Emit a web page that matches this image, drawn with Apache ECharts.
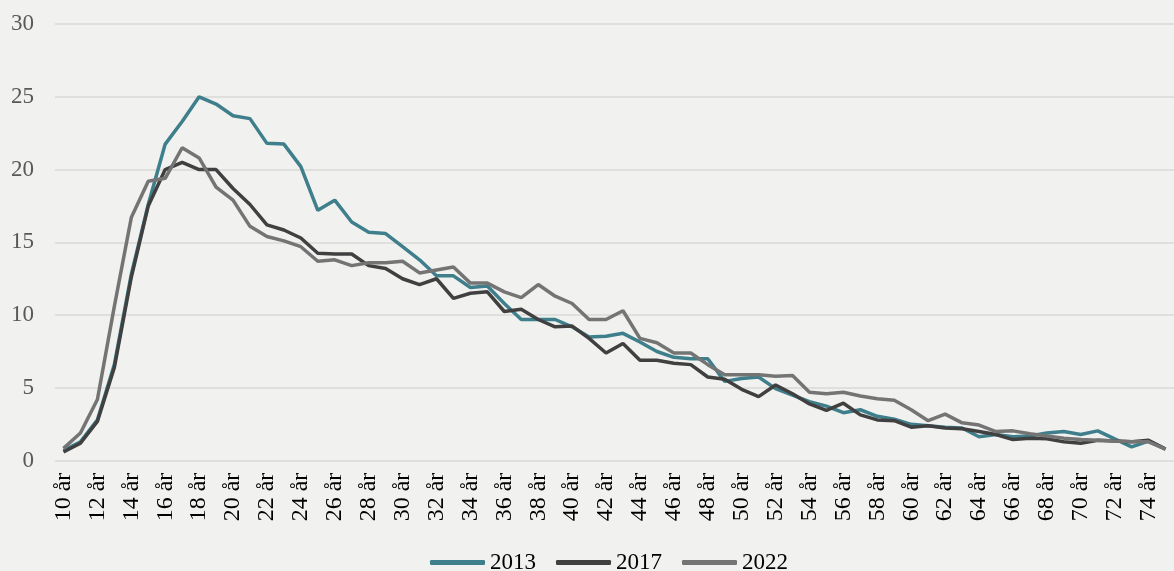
<!DOCTYPE html>
<html>
<head>
<meta charset="utf-8">
<script src="https://cdn.jsdelivr.net/npm/echarts@6/dist/echarts.min.js"></script>
<style>
html,body{margin:0;padding:0;background:#f1f1f0;}
#chart{width:1174px;height:571px;}
</style>
</head>
<body>
<div id="chart"></div>
<script>
const ages = [];
for (let a = 10; a <= 75; a++) ages.push(a + ' år');

const seriesNames = ['2013', '2017', '2022'];

const v2013 = [0.7, 1.3, 2.8, 6.6, 12.8, 17.6, 21.75, 23.3, 25.0, 24.5,
  23.7, 23.5, 21.8, 21.75, 20.2, 17.2, 17.9, 16.4, 15.7, 15.6,
  14.7, 13.8, 12.7, 12.7, 11.9, 12.0, 10.8, 9.7, 9.7, 9.7,
  9.2, 8.5, 8.55, 8.75, 8.15, 7.5, 7.1, 7.0, 7.0, 5.45,
  5.65, 5.75, 4.95, 4.5, 4.05, 3.75, 3.3, 3.5, 3.05, 2.85,
  2.5, 2.4, 2.3, 2.25, 1.65, 1.8, 1.65, 1.7, 1.9, 2.0,
  1.8, 2.05, 1.5, 0.95, 1.35, 0.8];

const v2017 = [0.6, 1.2, 2.7, 6.4, 12.6, 17.5, 20.0, 20.5, 20.0, 20.0,
  18.7, 17.6, 16.2, 15.85, 15.3, 14.25, 14.2, 14.2, 13.4, 13.2,
  12.5, 12.1, 12.5, 11.15, 11.5, 11.6, 10.25, 10.4, 9.7, 9.2,
  9.25, 8.4, 7.4, 8.05, 6.9, 6.9, 6.7, 6.6, 5.75, 5.6,
  4.9, 4.4, 5.2, 4.6, 3.9, 3.45, 3.95, 3.15, 2.8, 2.75,
  2.3, 2.4, 2.25, 2.2, 2.0, 1.8, 1.45, 1.55, 1.5, 1.3,
  1.2, 1.4, 1.35, 1.3, 1.4, 0.8];

const v2022 = [0.85, 1.9, 4.2, 10.6, 16.7, 19.2, 19.4, 21.5, 20.8, 18.8,
  17.9, 16.1, 15.4, 15.1, 14.7, 13.7, 13.8, 13.4, 13.6, 13.6,
  13.7, 12.9, 13.1, 13.3, 12.2, 12.2, 11.6, 11.2, 12.1, 11.3,
  10.8, 9.7, 9.7, 10.3, 8.4, 8.1, 7.4, 7.4, 6.6, 5.9,
  5.9, 5.9, 5.8, 5.85, 4.7, 4.6, 4.7, 4.45, 4.25, 4.15,
  3.5, 2.75, 3.2, 2.6, 2.45, 2.0, 2.05, 1.85, 1.7, 1.55,
  1.45, 1.4, 1.35, 1.3, 1.3, 0.8];

const yTicks = [0, 5, 10, 15, 20, 25, 30];
const colors = ['#3e7f8b', '#404040', '#747474'];

const chart = echarts.init(document.getElementById('chart'), null, {renderer: 'canvas'});
const font = '"Liberation Serif", "Times New Roman", serif';
chart.setOption({
  backgroundColor: '#f1f1f0',
  animation: false,
  grid: {left: 55, right: -11, top: 24, bottom: 110.3, containLabel: false},
  legend: {
    data: seriesNames,
    left: 425, top: 546,
    itemWidth: 55, itemHeight: 5, itemGap: 20,
    icon: 'roundRect',
    textStyle: {fontFamily: font, fontSize: 23, color: '#000'}
  },
  xAxis: {
    type: 'category', data: ages, boundaryGap: true,
    axisLine: {show: false}, axisTick: {show: false},
    axisLabel: {interval: 1, rotate: 90, margin: 12, fontFamily: font, fontSize: 24, color: '#000'}
  },
  yAxis: {
    type: 'value', min: yTicks[0], max: yTicks[yTicks.length - 1], interval: 5,
    axisLine: {show: false}, axisTick: {show: false},
    axisLabel: {margin: 21, fontFamily: font, fontSize: 23, color: '#595959'},
    splitLine: {lineStyle: {color: '#d9d9d9', width: 1.5}}
  },
  series: seriesNames.map((n, i) => ({
    name: n, type: 'line', data: [v2013, v2017, v2022][i],
    symbol: 'none', smooth: false,
    lineStyle: {color: colors[i], width: 3.5},
    itemStyle: {color: colors[i]}
  }))
});
</script>
</body>
</html>
